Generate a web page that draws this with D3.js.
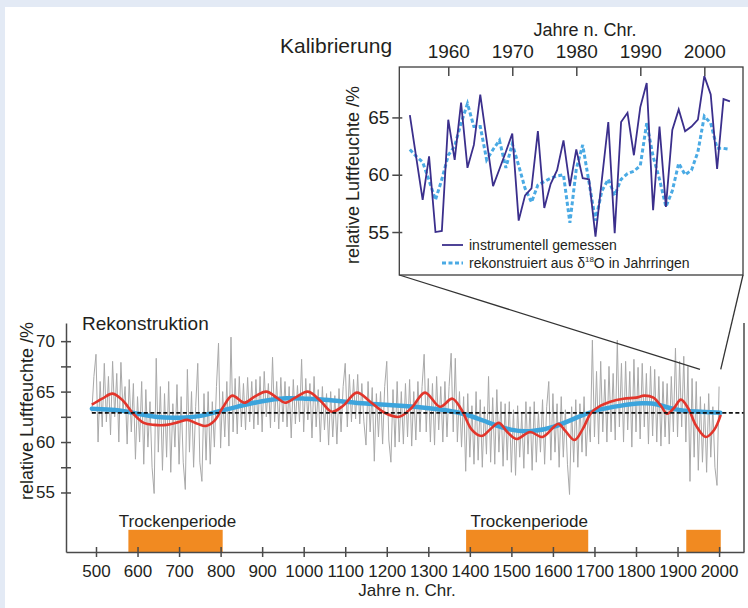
<!DOCTYPE html>
<html lang="de">
<head>
    <meta charset="UTF-8">
    <title>Relative Luftfeuchte - Rekonstruktion und Kalibrierung</title>
    <style>
        body { margin: 0; background: #e3eaf5; }
        svg { display: block; font-family: "Liberation Sans", Arial, sans-serif; }
        text { fill: #231f20; }
    </style>
</head>
<body>
    <div id="chart"></div>

    <script src="https://cdn.jsdelivr.net/npm/d3@7/dist/d3.min.js"></script>
    <script>
        // --- data ---

        // annual reconstruction, sampled every 5 years from 490 to 2000
        const grayYears = d3.range(490, 2001, 5);
        const grayValues = [
            63.0, 66.5, 68.7, 60.0, 66.0, 61.5, 67.8, 62.0, 66.5, 60.7,
            68.0, 62.5, 66.8, 60.0, 67.9, 63.0, 65.5, 59.8, 66.2, 61.0,
            65.8, 58.3, 64.5, 60.0, 66.0, 57.8, 65.2, 59.5, 64.0, 57.5,
            54.9, 68.3, 59.0, 65.5, 57.2, 64.8, 58.5, 66.0, 57.0, 63.8,
            59.5, 65.7, 57.8, 64.5, 58.0, 55.3, 67.2, 59.0, 65.0, 57.5,
            63.5, 67.8, 58.0, 56.1, 64.8, 58.2, 65.0, 57.8, 64.0, 59.5,
            65.5, 69.8, 59.4, 65.0, 60.5, 66.0, 59.6, 70.4, 61.0, 66.3,
            60.8, 66.5, 61.5, 65.8, 61.2, 66.4, 62.0, 66.0, 61.3, 66.2,
            61.7, 66.5, 61.0, 67.0, 62.5, 65.8, 61.4, 68.4, 62.0, 66.0,
            61.3, 66.4, 62.0, 66.0, 61.5, 65.5, 60.4, 66.2, 61.8, 65.6,
            62.0, 68.2, 61.0, 66.3, 62.2, 65.8, 60.4, 66.5, 61.5, 65.2,
            60.0, 65.5, 61.2, 64.8, 59.7, 65.0, 60.5, 64.6, 59.8, 65.3,
            61.0, 65.5, 67.8, 61.5, 66.7, 62.0, 66.2, 62.3, 66.7, 61.8,
            65.8, 62.0, 59.7, 66.0, 61.0, 65.4, 58.1, 64.8, 60.5, 65.0,
            59.8, 65.5, 68.0, 60.2, 58.0, 65.2, 59.5, 66.0, 60.0, 65.0,
            59.8, 65.8, 60.5, 66.2, 59.6, 65.0, 60.2, 66.0, 61.0, 65.5,
            68.7, 61.0, 66.3, 60.0, 65.8, 59.7, 66.5, 61.2, 65.5, 60.0,
            66.0, 60.5, 65.5, 68.8, 61.0, 68.3, 60.0, 65.0, 59.5, 64.5,
            57.1, 64.8, 58.5, 63.6, 57.8, 65.0, 58.2, 64.2, 57.5, 63.5,
            58.8, 66.5, 58.0, 64.4, 57.8, 65.2, 59.0, 64.0, 57.6, 63.8,
            58.2, 64.0, 57.0, 63.2, 56.7, 63.6, 58.5, 62.8, 57.4, 64.0,
            58.8, 63.5, 57.2, 64.0, 58.0, 63.0, 59.0, 64.2, 57.8, 63.5,
            66.0, 58.2, 64.8, 59.0, 63.8, 57.5, 64.5, 58.5, 63.2, 57.8,
            54.8, 63.5, 58.0, 64.2, 57.5, 63.8, 59.0, 64.5, 58.6, 63.0,
            60.0, 70.1, 60.5, 67.0, 59.8, 68.0, 61.0, 66.2, 60.0, 67.5,
            61.0, 66.8, 60.2, 70.1, 61.5, 67.8, 60.0, 68.0, 61.2, 67.0,
            59.5, 68.2, 61.0, 67.4, 60.3, 67.8, 61.5, 66.8, 59.8, 67.5,
            60.6, 67.2, 60.0, 66.5, 59.6, 66.0, 60.5, 65.8, 59.8, 66.5,
            61.0, 69.3, 60.5, 68.0, 61.5, 68.5, 60.0, 67.5, 56.1, 66.3,
            58.5, 66.0, 57.2, 64.5, 58.0, 63.8, 57.0, 64.8, 58.5, 63.5,
            57.5, 55.7, 65.5
        ];

        // red: decadal-scale smoothing
        const redYears = [490, 515, 540, 565, 590, 615, 640, 670, 700, 720, 745, 765, 785, 805, 828, 857, 882, 910, 935, 955,
            980, 1010, 1040, 1068, 1095, 1128, 1160, 1195, 1230, 1260, 1292, 1328, 1358, 1380, 1405, 1428, 1450, 1470, 1490, 1512,
            1545, 1575, 1613, 1630, 1652, 1672, 1692, 1715, 1738, 1770, 1800, 1820, 1842, 1860, 1875, 1892, 1908, 1925, 1945, 1968,
            1988, 2004];
        const redValues = [63.7, 64.3, 64.8, 64.1, 62.8, 61.9, 61.7, 61.7, 62.0, 62.2, 61.8, 61.6, 62.1, 63.4, 64.6, 63.9, 64.5, 65.0, 64.4, 63.9,
            64.4, 65.0, 64.1, 63.0, 63.6, 64.9, 64.0, 62.9, 62.5, 63.4, 64.9, 63.5, 64.3, 63.2, 61.2, 60.6, 61.3, 61.9, 61.0, 60.3,
            61.0, 60.5, 61.8, 61.1, 60.2, 61.3, 62.9, 63.6, 64.0, 64.3, 64.4, 64.6, 64.4, 63.6, 62.8, 63.4, 64.2, 63.4, 61.6, 60.5,
            61.2, 62.7];

        // blue: long-term trend
        const blueYears = [490, 550, 590, 650, 700, 750, 790, 840, 900, 960, 1000, 1050, 1100, 1150, 1200, 1275, 1340, 1390, 1440, 1500,
            1550, 1600, 1655, 1705, 1760, 1820, 1850, 1890, 1945, 2003];
        const blueValues = [63.3, 63.2, 62.9, 62.4, 62.4, 62.5, 63.0, 63.5, 64.1, 64.4, 64.3, 64.2, 64.0, 63.8, 63.7, 63.5, 63.2, 62.8, 62.0, 61.1,
            61.0, 61.4, 62.4, 63.2, 63.6, 63.9, 63.8, 63.2, 63.0, 62.9];

        const meanLevel = 62.9;

        const dryStart = [578, 1391, 1921];
        const dryEnd = [805, 1685, 2004];
        const dryLabels = ["Trockenperiode", "Trockenperiode", ""];

        const mainXTicks = d3.range(500, 2001, 100);
        const mainYTicks = [55, 57.5, 60, 62.5, 65, 67.5, 70];

        // calibration period 1954-2004
        const calibYears = d3.range(1954, 2005);
        const measured = [65.2, 61.5, 57.8, 61.6, 55.0, 55.1, 64.8, 61.3, 66.3, 60.6,
            62.6, 67.0, 63.0, 59.0, 60.5, 62.0, 63.6, 56.0, 58.2, 58.8,
            63.8, 57.1, 59.2, 60.4, 63.0, 59.0, 62.2, 59.7, 59.6, 54.6,
            59.6, 64.6, 54.9, 64.6, 65.4, 61.7, 65.9, 68.0, 56.9, 64.2,
            57.2, 63.9, 65.7, 63.8, 64.2, 64.8, 68.6, 67.0, 60.5, 66.6,
            66.4];
        const reconstructed = [62.2, 61.6, 61.1, 59.5, 57.8, 59.6, 61.7, 62.5, 64.5, 66.2,
            64.2, 64.2, 61.3, 62.2, 63.0, 60.6, 62.7, 60.8, 58.8, 57.6,
            59.1, 59.4, 59.7, 59.9, 60.0, 55.8, 60.5, 62.6, 59.3, 56.0,
            58.6, 59.6, 58.2, 59.6, 60.1, 60.3, 60.8, 64.5, 61.6, 59.6,
            57.2, 58.6, 61.0, 60.0, 60.4, 62.0, 65.1, 64.5, 62.3, 62.3,
            62.2];

        const insetXTicks = [1960, 1970, 1980, 1990, 2000];
        const insetYTicks = [55, 60, 65];
        const legendLabels = ["instrumentell gemessen", "rekonstruiert aus δ"];

        // --- drawing ---

        const width = 748, height = 608;
        const axisColor = "#4a4a4a";

        const svg = d3.select("#chart")
            .append("svg")
            .attr("width", width)
            .attr("height", height);

        svg.append("rect")
            .attr("x", 0).attr("y", 0)
            .attr("width", width).attr("height", height)
            .attr("fill", "#e3eaf5");
        svg.append("rect")
            .attr("x", 5).attr("y", 7)
            .attr("width", width - 5).attr("height", height - 7)
            .attr("fill", "#ffffff");

        // main panel
        const x = d3.scaleLinear().domain([427.8, 2060]).range([66, 744]);
        const y = d3.scaleLinear().domain([49.1, 71.8]).range([552, 323]);

        // dry periods
        const barTop = 51.3;
        const dry = svg.append("g").selectAll("g")
            .data(dryStart.map((s, i) => ({start: s, end: dryEnd[i], label: dryLabels[i]})))
            .join("g");
        dry.append("rect")
            .attr("x", (d) => x(d.start))
            .attr("y", y(barTop))
            .attr("width", (d) => x(d.end) - x(d.start))
            .attr("height", y(49.1) - y(barTop))
            .attr("fill", "#f18a21");
        dry.append("text")
            .attr("x", (d) => (x(d.start) + x(d.end)) / 2 + 2)
            .attr("y", y(barTop) - 3)
            .attr("text-anchor", "middle")
            .attr("font-size", 17)
            .text((d) => d.label);

        // gray annual series
        svg.append("path")
            .datum(grayValues)
            .attr("d", d3.line()
                .x((d, i) => x(grayYears[i]))
                .y((d) => y(d)))
            .attr("fill", "none")
            .attr("stroke", "#a9a9a9")
            .attr("stroke-width", 1);

        // blue trend
        svg.append("path")
            .datum(blueValues)
            .attr("d", d3.line()
                .curve(d3.curveBasis)
                .x((d, i) => x(blueYears[i]))
                .y((d) => y(d)))
            .attr("fill", "none")
            .attr("stroke", "#3ca4dc")
            .attr("stroke-width", 4.5)
            .attr("stroke-linecap", "round");

        // red smoothed
        svg.append("path")
            .datum(redValues)
            .attr("d", d3.line()
                .curve(d3.curveCatmullRom)
                .x((d, i) => x(redYears[i]))
                .y((d) => y(d)))
            .attr("fill", "none")
            .attr("stroke", "#e2352b")
            .attr("stroke-width", 2.6);

        // mean line
        svg.append("line")
            .attr("x1", x(490)).attr("x2", 744)
            .attr("y1", y(meanLevel)).attr("y2", y(meanLevel))
            .attr("stroke", "#111")
            .attr("stroke-width", 1.8)
            .attr("stroke-dasharray", "4,2.5");

        // axes
        const xAxis = svg.append("g")
            .attr("transform", `translate(0,${y(49.1)})`)
            .call(d3.axisBottom(x).tickValues(mainXTicks).tickSizeOuter(0).tickSizeInner(5).tickPadding(8).tickFormat(d3.format("d")));
        xAxis.selectAll(".tick line").attr("y1", -5).attr("y2", 5);
        xAxis.selectAll("text").attr("font-size", 17).attr("font-family", null);

        const yAxis = svg.append("g")
            .attr("transform", `translate(${x(427.8)},0)`)
            .call(d3.axisLeft(y).tickValues(mainYTicks).tickSizeOuter(0).tickSizeInner(5).tickPadding(6)
                .tickFormat((d) => d % 5 === 0 ? d : ""));
        yAxis.selectAll(".tick line").attr("x1", 5).attr("x2", -5);
        yAxis.selectAll("text").attr("font-size", 17).attr("font-family", null);

        svg.selectAll(".domain, .tick line")
            .attr("stroke", axisColor)
            .attr("stroke-width", 1.5);

        // right frame line
        svg.append("line")
            .attr("x1", 744).attr("x2", 744)
            .attr("y1", 323).attr("y2", y(49.1))
            .attr("stroke", axisColor)
            .attr("stroke-width", 1.5);

        svg.append("text")
            .attr("x", 82).attr("y", 330)
            .attr("font-size", 19)
            .text("Rekonstruktion");

        svg.append("text")
            .attr("transform", "translate(33,411) rotate(-90)")
            .attr("text-anchor", "middle")
            .attr("font-size", 18)
            .text("relative Luftfeuchte /%");

        svg.append("text")
            .attr("x", 407).attr("y", 596)
            .attr("text-anchor", "middle")
            .attr("font-size", 17)
            .text("Jahre n. Chr.");

        // inset (calibration)
        const xi = d3.scaleLinear().domain([1952.35, 2006.2]).range([399.3, 744]);
        const yi = d3.scaleLinear().domain([51.25, 69.4]).range([275, 67]);

        // zoom connector lines
        svg.append("line")
            .attr("x1", xi.range()[0]).attr("y1", yi.range()[0])
            .attr("x2", x(calibYears[0])).attr("y2", y(67.2))
            .attr("stroke", "#333").attr("stroke-width", 1.3);
        svg.append("line")
            .attr("x1", xi.range()[1] - 1).attr("y1", yi.range()[0])
            .attr("x2", x(calibYears[calibYears.length - 1])).attr("y2", y(67.2))
            .attr("stroke", "#333").attr("stroke-width", 1.3);

        svg.append("rect")
            .attr("x", 399.3).attr("y", 67)
            .attr("width", 343.7).attr("height", 208)
            .attr("fill", "#fff")
            .attr("stroke", "#3d3d3d")
            .attr("stroke-width", 1.3);

        svg.append("path")
            .datum(reconstructed)
            .attr("d", d3.line()
                .x((d, i) => xi(calibYears[i]))
                .y((d) => yi(d)))
            .attr("fill", "none")
            .attr("stroke", "#4aaae4")
            .attr("stroke-width", 3)
            .attr("stroke-dasharray", "4,2.5");

        svg.append("path")
            .datum(measured)
            .attr("d", d3.line()
                .x((d, i) => xi(calibYears[i]))
                .y((d) => yi(d)))
            .attr("fill", "none")
            .attr("stroke", "#3b2f8c")
            .attr("stroke-width", 1.8)
            .attr("stroke-linejoin", "miter");

        const xiAxis = svg.append("g")
            .attr("transform", "translate(0,67)")
            .call(d3.axisTop(xi).tickValues(insetXTicks).tickSizeOuter(0).tickSizeInner(0).tickPadding(9).tickFormat(d3.format("d")));
        xiAxis.select(".domain").remove();
        xiAxis.selectAll(".tick line").attr("y1", 0).attr("y2", 9);
        xiAxis.selectAll("text").attr("font-size", 19).attr("font-family", null);

        const yiAxis = svg.append("g")
            .attr("transform", "translate(399.3,0)")
            .call(d3.axisLeft(yi).tickValues(insetYTicks).tickSizeOuter(0).tickSizeInner(7).tickPadding(3));
        yiAxis.select(".domain").remove();
        yiAxis.selectAll(".tick line").attr("x1", 3).attr("x2", -7);
        yiAxis.selectAll("text").attr("font-size", 19).attr("font-family", null);

        svg.selectAll("g .tick line")
            .attr("stroke", axisColor)
            .attr("stroke-width", 1.5);

        svg.append("text")
            .attr("x", 280).attr("y", 53)
            .attr("font-size", 21)
            .text("Kalibrierung");

        svg.append("text")
            .attr("x", 585).attr("y", 36)
            .attr("text-anchor", "middle")
            .attr("font-size", 18)
            .text("Jahre n. Chr.");

        svg.append("text")
            .attr("transform", "translate(359,175) rotate(-90)")
            .attr("text-anchor", "middle")
            .attr("font-size", 18)
            .text("relative Luftfeuchte /%");

        // legend
        const legend = svg.append("g").attr("transform", "translate(442,0)");
        legend.append("line")
            .attr("x1", 0).attr("x2", 21)
            .attr("y1", 245).attr("y2", 245)
            .attr("stroke", "#3b2f8c").attr("stroke-width", 1.8);
        legend.append("text")
            .attr("x", 27).attr("y", 249.5)
            .attr("font-size", 14)
            .text(legendLabels[0]);
        legend.append("line")
            .attr("x1", 0).attr("x2", 21)
            .attr("y1", 263).attr("y2", 263)
            .attr("stroke", "#4aaae4").attr("stroke-width", 3)
            .attr("stroke-dasharray", "4,2.5");
        const l2 = legend.append("text")
            .attr("x", 27).attr("y", 267.5)
            .attr("font-size", 14)
            .text(legendLabels[1]);
        l2.append("tspan").attr("font-size", 8).attr("dy", -6).text("18");
        l2.append("tspan").attr("dy", 6).text("O in Jahrringen");
    </script>
</body>
</html>
